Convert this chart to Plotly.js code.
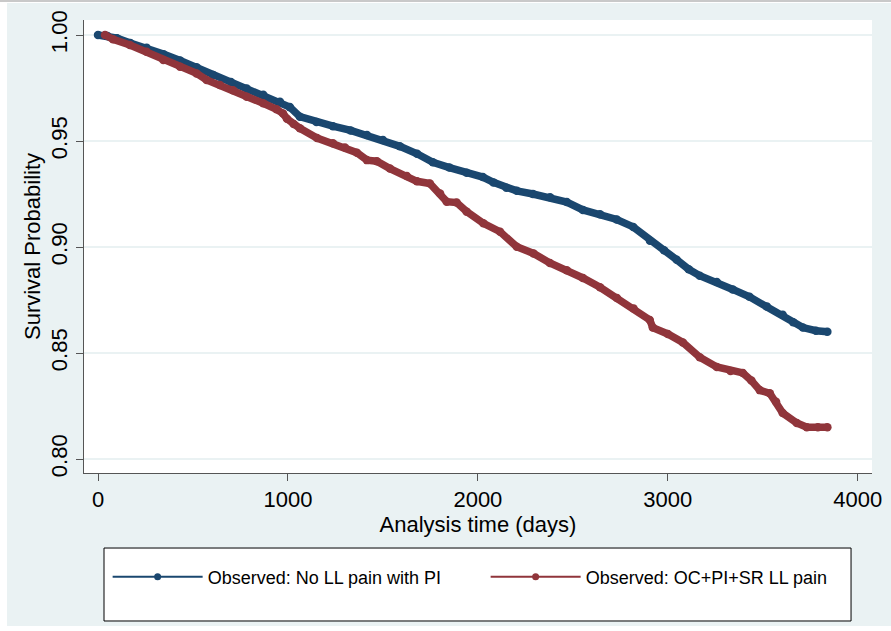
<!DOCTYPE html>
<html>
<head>
<meta charset="utf-8">
<script src="https://cdn.plot.ly/plotly-3.0.1.min.js"></script>
<style>
  html, body { margin: 0; padding: 0; background: #ffffff; width: 891px; height: 631px; overflow: hidden; }
  #topline { position: absolute; left: 0; top: 0; width: 891px; height: 2px; background: #c9c9c9; }
  #chart { position: absolute; left: 7px; top: 3px; width: 884px; height: 623px; }
</style>
</head>
<body>
<div id="topline"></div>
<div id="chart"></div>
<script>
// Kaplan-Meier style observed survival, two groups
var noPainDays = [0, 50, 100, 170, 256, 344, 432, 519, 606, 700, 783, 870, 958, 1010, 1063, 1150, 1237, 1330,
  1416, 1500, 1589, 1680, 1763, 1850, 1941, 2026, 2082, 2150, 2205, 2290, 2380, 2468, 2553, 2643, 2731,
  2818, 2906, 2980, 3047, 3110, 3168, 3258, 3342, 3430, 3521, 3605, 3660, 3711, 3780, 3840];
var noPainSurv = [1.000, 0.9995, 0.9985, 0.9962, 0.9940, 0.9910, 0.9880, 0.9848, 0.9812, 0.9778, 0.9748, 0.9718,
  0.9685, 0.9660, 0.9615, 0.9590, 0.9570, 0.9550, 0.9528, 0.9505, 0.9475, 0.9440, 0.9400, 0.9375, 0.9350,
  0.9330, 0.9305, 0.9280, 0.9265, 0.9250, 0.9235, 0.9212, 0.9175, 0.9155, 0.9130, 0.9095, 0.9030, 0.8985,
  0.8940, 0.8895, 0.8865, 0.8835, 0.8800, 0.8765, 0.8720, 0.8680, 0.8645, 0.8620, 0.8605, 0.8600];

var ocPainDays = [37, 79, 168, 256, 344, 432, 519, 572, 642, 711, 783, 870, 940, 974, 995, 1030, 1063, 1153,
  1237, 1300, 1363, 1416, 1468, 1537, 1626, 1679, 1747, 1801, 1836, 1888, 1941, 2029, 2117, 2205, 2293,
  2379, 2468, 2553, 2643, 2732, 2820, 2905, 2921, 3000, 3079, 3168, 3258, 3330, 3395, 3440, 3484, 3537,
  3570, 3605, 3679, 3732, 3790, 3840];
var ocPainSurv = [1.000, 0.9980, 0.9953, 0.9921, 0.9882, 0.9851, 0.9819, 0.9788, 0.9764, 0.9740, 0.9709, 0.9678,
  0.9650, 0.9630, 0.9605, 0.9580, 0.9560, 0.9514, 0.9490, 0.9470, 0.9445, 0.9410, 0.9405, 0.9370, 0.9335,
  0.9310, 0.9300, 0.9253, 0.9214, 0.9210, 0.9167, 0.9112, 0.9072, 0.9001, 0.8970, 0.8925, 0.8890, 0.8854,
  0.8810, 0.8760, 0.8710, 0.8656, 0.8620, 0.8590, 0.8550, 0.8480, 0.8434, 0.8415, 0.8406, 0.8370, 0.8325,
  0.8310, 0.8270, 0.8217, 0.8170, 0.8150, 0.8150, 0.8150];

var seriesNames = ['Observed: No LL pain with PI', 'Observed: OC+PI+SR LL pain'];
var xTicks = [0, 1000, 2000, 3000, 4000];
var yTicks = [0.80, 0.85, 0.90, 0.95, 1.00];

var NAVY = '#1A476F';
var MAROON = '#90353B';
var FONT = 'Liberation Sans, Arial, sans-serif';

function curve(x, y, color) {
  return {
    x: x, y: y, type: 'scatter', mode: 'lines+markers',
    line: { color: color, width: 7.5 },
    marker: { color: color, size: 8.5 },
    showlegend: false, hoverinfo: 'skip'
  };
}
function legendEntry(name, color) {
  return {
    x: [null], y: [null], type: 'scatter', mode: 'lines+markers', name: name,
    line: { color: color, width: 2 },
    marker: { color: color, size: 7 },
    showlegend: true
  };
}

var data = [
  curve(noPainDays, noPainSurv, NAVY),
  curve(ocPainDays, ocPainSurv, MAROON),
  legendEntry(seriesNames[0], NAVY),
  legendEntry(seriesNames[1], MAROON)
];

var layout = {
  width: 884, height: 623,
  margin: { l: 77, r: 19, t: 17, b: 153 },
  paper_bgcolor: '#EAF2F3',
  plot_bgcolor: '#FFFFFF',
  font: { family: FONT, color: '#000000' },
  xaxis: {
    range: [-73.7, 4075],
    tickvals: xTicks,
    ticks: 'outside', ticklen: 7, tickcolor: '#555555', tickwidth: 1,
    showline: true, linecolor: '#555555', linewidth: 1,
    showgrid: false, zeroline: false,
    tickfont: { family: FONT, size: 22, color: '#000000' },
    title: { text: 'Analysis time (days)', font: { family: FONT, size: 22, color: '#000000' }, standoff: 2 }
  },
  yaxis: {
    range: [0.7934, 1.0071],
    tickvals: yTicks,
    tickformat: '.2f',
    tickangle: -90,
    ticks: 'outside', ticklen: 7, tickcolor: '#555555', tickwidth: 1,
    showline: true, linecolor: '#555555', linewidth: 1,
    showgrid: true, gridcolor: '#EAF2F3', gridwidth: 2,
    zeroline: false,
    tickfont: { family: FONT, size: 22, color: '#000000' },
    title: { text: 'Survival Probability', font: { family: FONT, size: 22, color: '#000000' }, standoff: 0 }
  },
  shapes: [{
    type: 'rect', xref: 'paper', yref: 'paper',
    x0: 0.0254, x1: 0.9734, y0: -0.3267, y1: -0.1656,
    fillcolor: '#FFFFFF', line: { color: '#000000', width: 1 }, layer: 'below'
  }],
  legend: {
    orientation: 'h',
    x: 0.03, xanchor: 'left',
    y: -0.2296, yanchor: 'middle',
    bgcolor: 'rgba(0,0,0,0)', borderwidth: 0,
    font: { family: FONT, size: 18, color: '#000000' },
    itemwidth: 90,
    entrywidth: 273, entrywidthmode: 'pixels',
    traceorder: 'normal'
  }
};

Plotly.newPlot('chart', data, layout, { displayModeBar: false, staticPlot: true });
</script>
</body>
</html>
